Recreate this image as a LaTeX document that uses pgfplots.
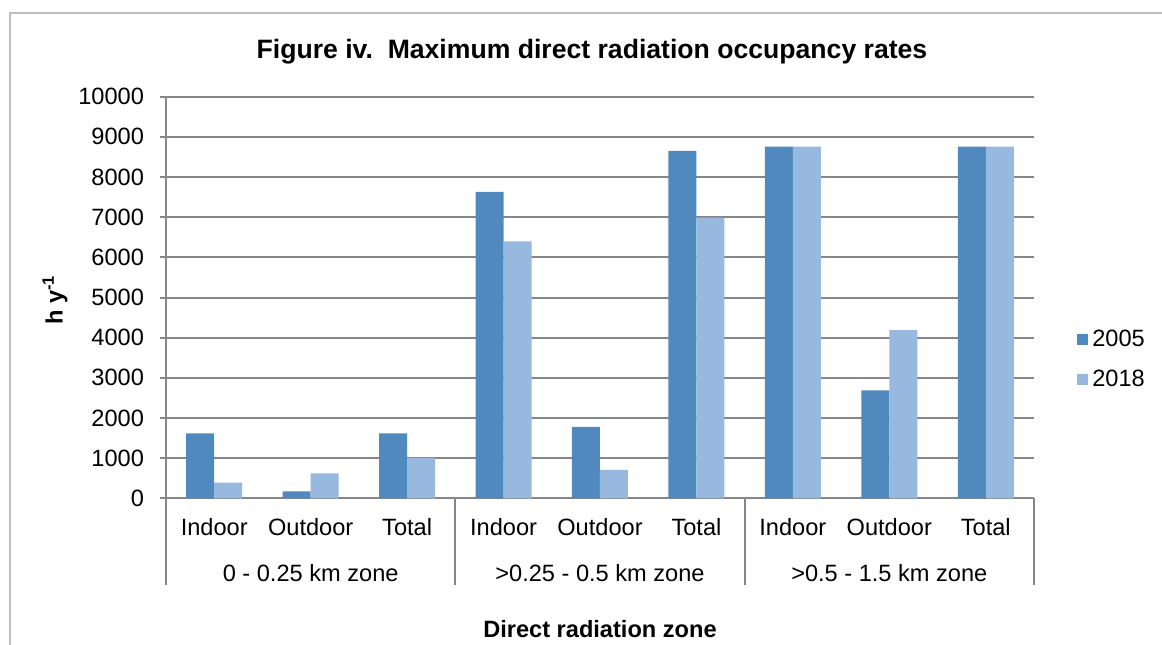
\documentclass[border=0pt]{standalone}
\usepackage{pgfplots}
\pgfplotsset{compat=1.18}
\usepackage{fontspec}
\setmainfont{Liberation Sans}
\definecolor{c05}{RGB}{79,137,189}
\definecolor{c18}{RGB}{152,185,223}
\definecolor{gridc}{RGB}{134,134,134}
\definecolor{framec}{RGB}{190,190,190}
\newcommand{\lab}{\fontsize{11.8}{14}\selectfont}
\begin{document}
\begin{tikzpicture}
\path[use as bounding box] (0,0) rectangle (581pt,-322pt);
\draw[framec, line width=0.75pt] (5pt,-323pt) -- (5pt,-6.5pt) -- (582pt,-6.5pt);
\begin{axis}[
  at={(83pt,-249.15pt)}, anchor=south west,
  scale only axis, width=434pt, height=200.8pt,
  xmin=-0.5, xmax=8.5, ymin=0, ymax=10000,
  ybar=0pt, bar width=14pt,
  axis x line=bottom, axis y line=left,
  axis line style={gridc, line width=1pt, -},
  xtick=\empty,
  ytick={0,1000,...,10000},
  ymajorgrids, grid style={gridc, line width=1pt},
  y tick style={gridc, line width=1pt},
  tick align=outside, major tick length=3pt,
  yticklabel style={font=\lab, xshift=-4.5pt},
  /pgf/number format/assume math mode=true,
  /pgf/number format/set thousands separator={},
  scaled y ticks=false,
  clip=false,
  legend style={at={(1.0495,0.3456)}, anchor=west, draw=none, fill=none,
    inner sep=0pt, font=\lab, row sep=6.5pt},
  legend cell align=left,
  legend image code/.code={\fill[#1] (0pt,-2.75pt) rectangle (5.5pt,2.75pt);},
]
\addplot[fill=c05, draw=none] coordinates {(0,1620) (1,170) (2,1620) (3,7630) (4,1780) (5,8650) (6,8760) (7,2690) (8,8760)};
\addplot[fill=c18, draw=none] coordinates {(0,390) (1,620) (2,1010) (3,6400) (4,710) (5,6990) (6,8760) (7,4190) (8,8760)};
\legend{2005,2018}
\node[anchor=base, font=\lab, yshift=-18.35pt] at (axis cs:0,0) {Indoor};
\node[anchor=base, font=\lab, yshift=-18.35pt] at (axis cs:1,0) {Outdoor};
\node[anchor=base, font=\lab, yshift=-18.35pt] at (axis cs:2,0) {Total};
\node[anchor=base, font=\lab, yshift=-18.35pt] at (axis cs:3,0) {Indoor};
\node[anchor=base, font=\lab, yshift=-18.35pt] at (axis cs:4,0) {Outdoor};
\node[anchor=base, font=\lab, yshift=-18.35pt] at (axis cs:5,0) {Total};
\node[anchor=base, font=\lab, yshift=-18.35pt] at (axis cs:6,0) {Indoor};
\node[anchor=base, font=\lab, yshift=-18.35pt] at (axis cs:7,0) {Outdoor};
\node[anchor=base, font=\lab, yshift=-18.35pt] at (axis cs:8,0) {Total};
\node[anchor=base, font=\lab, yshift=-41.35pt] at (axis cs:1,0) {0 - 0.25 km zone};
\node[anchor=base, font=\lab, yshift=-41.35pt] at (axis cs:4,0) {>0.25 - 0.5 km zone};
\node[anchor=base, font=\lab, yshift=-41.35pt] at (axis cs:7,0) {>0.5 - 1.5 km zone};
\draw[gridc, line width=1pt] (axis cs:-0.5,0) -- ++(0pt,-43.5pt);
\draw[gridc, line width=1pt] (axis cs:2.5,0) -- ++(0pt,-43.5pt);
\draw[gridc, line width=1pt] (axis cs:5.5,0) -- ++(0pt,-43.5pt);
\draw[gridc, line width=1pt] (axis cs:8.5,0) -- ++(0pt,-43.5pt);
\node[anchor=base, font=\lab\bfseries, yshift=-69.35pt] at (axis cs:4,0) {Direct radiation zone};
\end{axis}
\node[font=\fontsize{13.3}{16}\selectfont\bfseries] at (296pt,-26pt) {Figure iv.\ \ Maximum direct radiation occupancy rates};
\node[font=\lab\bfseries, rotate=90] at (27.5pt,-150pt) {h y\textsuperscript{-1}};
\end{tikzpicture}
\end{document}
